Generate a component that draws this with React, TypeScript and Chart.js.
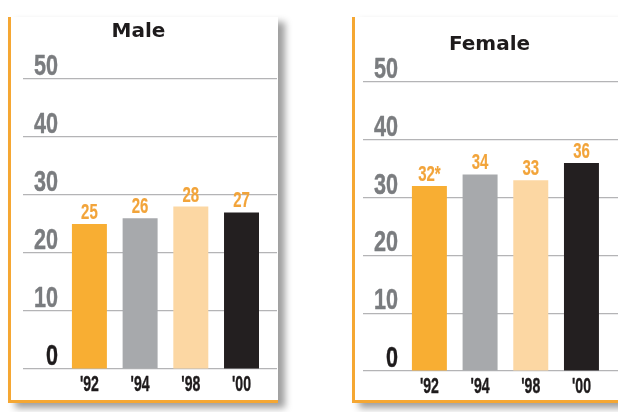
import React, { useEffect, useRef } from "react";
import { Chart, registerables } from "chart.js";

Chart.register(...registerables);

// Survey years shown under each panel
const years = ["'92", "'94", "'98", "'00"];

// Percentages per year
const maleRates = [25, 26, 28, 27];
const femaleRates = [32, 34, 33, 36];

// Footnote markers appended to the value labels
const maleNotes = ["", "", "", ""];
const femaleNotes = ["*", "", "", ""];

// Value axis
const axisMin = 0;
const axisMax = 50;
const axisStep = 10;

const BAR_COLORS = ["#F8AE33", "#A7A9AC", "#FCD7A3", "#231F20"];
const ORANGE = "#F5A733";
const LABEL_ORANGE = "#F2A43A";
const GRID = "#B4B4B6";
const GRAY_TEXT = "#7A7C7F";
const INK = "#1E1B1C";
const CONDENSED = "'Liberation Sans', Arial, sans-serif";

function squeezeText(
  ctx: CanvasRenderingContext2D,
  text: string,
  x: number,
  y: number,
  size: number,
  squeeze: number,
  color: string,
  align: CanvasTextAlign,
  weight: number
) {
  ctx.save();
  ctx.font = `bold ${size}px ${CONDENSED}`;
  ctx.fillStyle = color;
  ctx.strokeStyle = color;
  ctx.lineWidth = weight;
  ctx.lineJoin = "round";
  ctx.textAlign = align;
  ctx.textBaseline = "alphabetic";
  ctx.translate(x, y);
  ctx.scale(squeeze, 1);
  ctx.fillText(text, 0, 0);
  if (weight > 0) ctx.strokeText(text, 0, 0);
  ctx.restore();
}

// Draws the narrow axis numbers, year labels and the value labels above the bars
const condensedLabels = {
  id: "condensedLabels",
  afterDatasetsDraw(chart: any, _args: any, opts: any) {
    const { ctx, chartArea, scales } = chart;
    const yScale = scales.y;
    const xScale = scales.x;

    yScale.ticks.forEach((tick: any) => {
      const py = yScale.getPixelForValue(tick.value);
      squeezeText(
        ctx,
        String(tick.label),
        chartArea.left + 35,
        py - 4,
        30,
        0.72,
        tick.value === 0 ? INK : GRAY_TEXT,
        "right",
        0.45
      );
    });

    xScale.ticks.forEach((tick: any) => {
      const px = xScale.getPixelForValue(tick.value);
      squeezeText(ctx, opts.categories[tick.value], px, chartArea.bottom + 22, 22, 0.64, INK, "center", 0.4);
    });

    const meta = chart.getDatasetMeta(0);
    const values = chart.data.datasets[0].data;
    meta.data.forEach((bar: any, i: number) => {
      const text = String(values[i].y) + (opts.notes[i] || "");
      squeezeText(ctx, text, bar.x, bar.y - 5, 22, 0.68, LABEL_ORANGE, "center", 0.2);
    });
  },
};

type PanelProps = {
  title: string;
  values: number[];
  notes: string[];
  left: number;
  canvasLeft: number;
  canvasWidth: number;
  axisWidth: number;
  xMax: number;
  titleTop: number;
  titleBottom: number;
  xAxisHeight: number;
  panelWidth: number;
};

function Panel(p: PanelProps) {
  const ref = useRef<HTMLCanvasElement | null>(null);

  useEffect(() => {
    if (!ref.current) return;
    const chart = new Chart(ref.current, {
      type: "bar",
      data: {
        datasets: [
          {
            data: p.values.map((v, i) => ({ x: i, y: v })),
            backgroundColor: BAR_COLORS,
            borderWidth: 0,
            barPercentage: 0.69,
            categoryPercentage: 1,
          },
        ],
      },
      options: {
        animation: false,
        responsive: false,
        devicePixelRatio: 1,
        layout: { padding: { left: 0, right: 1, top: 0, bottom: 0 } },
        plugins: {
          legend: { display: false },
          tooltip: { enabled: false },
          title: {
            display: true,
            text: p.title,
            color: INK,
            font: { family: "'DejaVu Sans', sans-serif", size: 20, weight: "bold", lineHeight: 1.2 },
            padding: { top: p.titleTop, bottom: p.titleBottom },
          },
          condensedLabels: { categories: years, notes: p.notes },
        } as any,
        scales: {
          x: {
            type: "linear",
            offset: false,
            min: -1.31,
            max: p.xMax,
            grid: { display: false, drawTicks: false, offset: false },
            border: { display: false },
            ticks: { display: false },
            afterBuildTicks: (scale: any) => {
              scale.ticks = years.map((_, i) => ({ value: i }));
            },
            afterFit: (scale: any) => {
              scale.height = p.xAxisHeight;
            },
          },
          y: {
            min: axisMin,
            max: axisMax,
            grid: { color: GRID, lineWidth: 1.2, drawTicks: false },
            border: { display: false },
            ticks: { stepSize: axisStep, display: false },
            afterFit: (scale: any) => {
              scale.width = p.axisWidth;
            },
          },
        },
      },
      plugins: [condensedLabels as any],
    });
    return () => chart.destroy();
  }, []);

  return (
    <>
      <div
        style={{
          position: "absolute",
          left: p.left,
          top: 17,
          width: p.panelWidth,
          height: 386,
          boxSizing: "border-box",
          background: "#fff",
          borderLeft: `3px solid ${ORANGE}`,
          borderBottom: `3px solid ${ORANGE}`,
          boxShadow: "7px 5px 7px rgba(0,0,0,0.38)",
        }}
      />
      <canvas
        ref={ref}
        width={p.canvasWidth}
        height={383}
        style={{
          position: "absolute",
          left: p.canvasLeft,
          top: 17,
          width: p.canvasWidth,
          height: 383,
        }}
      />
    </>
  );
}

export default function App() {
  return (
    <div
      style={{
        position: "fixed",
        left: 0,
        top: 0,
        width: 618,
        height: 412,
        overflow: "hidden",
        background: "#fff",
      }}
    >
      <Panel
        title="Male"
        values={maleRates}
        notes={maleNotes}
        left={8}
        panelWidth={270}
        canvasLeft={0}
        canvasWidth={278}
        axisWidth={23}
        xMax={3.7}
        titleTop={3}
        titleBottom={35}
        xAxisHeight={31}
      />
      <Panel
        title="Female"
        values={femaleRates}
        notes={femaleNotes}
        left={352}
        panelWidth={272}
        canvasLeft={358}
        canvasWidth={264}
        axisWidth={5}
        xMax={3.78}
        titleTop={16}
        titleBottom={25}
        xAxisHeight={29}
      />
    </div>
  );
}
